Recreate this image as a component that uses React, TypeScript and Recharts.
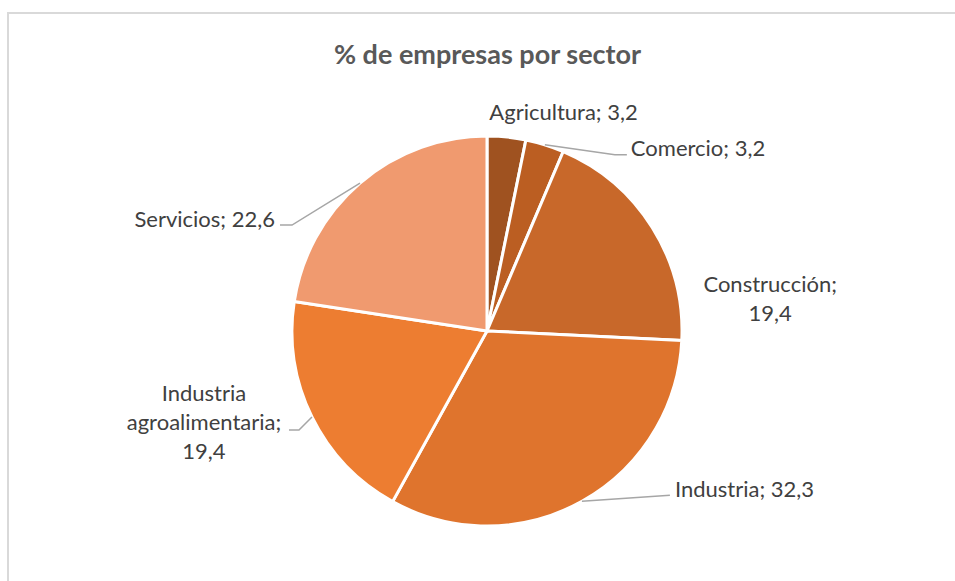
import React from 'react';
import { PieChart, Pie, Cell } from 'recharts';

const categories = ['Agricultura', 'Comercio', 'Construcción', 'Industria', 'Industria agroalimentaria', 'Servicios'];
const values = [3.2, 3.2, 19.4, 32.3, 19.4, 22.6];
const colors = ['#9F5220', '#BB5E22', '#C8682A', '#DF742D', '#ED7D31', '#F09A6F'];
const title = '% de empresas por sector';

const data = categories.map((name, i) => ({ name, value: values[i] }));

// label layout, relative to the slice's mid-point on the rim
const labelLayout: any[] = [
  { dx: 57, dy: -25, anchor: 'middle', wrap: 0, line: null },
  { dx: 86, dy: 3, anchor: 'start', wrap: 0, line: [[70, 10], [82, 10]] },
  { dx: 118, dy: 56, anchor: 'middle', wrap: 1, line: null },
  { dx: 93, dy: -13, anchor: 'start', wrap: 0, line: [[88, -6]] },
  { dx: -108, dy: -24, anchor: 'middle', wrap: 2, line: [[-13, 13], [-23, 13]] },
  { dx: -85, dy: 35, anchor: 'end', wrap: 0, line: [[-68, 42], [-80, 42]] },
];

const fmt = (v: number) => v.toString().replace('.', ',');

const renderLabel = (props: any) => {
  const { cx, cy, midAngle, outerRadius, index, name, value } = props;
  const RAD = Math.PI / 180;
  const ex = cx + outerRadius * Math.cos(-midAngle * RAD);
  const ey = cy + outerRadius * Math.sin(-midAngle * RAD);
  const lay = labelLayout[index];
  let lines: string[];
  if (lay.wrap === 0) lines = [`${name}; ${fmt(value)}`];
  else if (lay.wrap === 1) lines = [`${name};`, fmt(value)];
  else {
    const parts = String(name).split(' ');
    lines = [...parts.slice(0, -1), `${parts[parts.length - 1]};`, fmt(value)];
  }
  let path = '';
  if (lay.line) {
    path = `M${ex},${ey}` + lay.line.map((p: number[]) => ` L${ex + p[0]},${ey + p[1]}`).join('');
  }
  return (
    <g key={`lbl-${index}`}>
      {path && <path d={path} stroke="#A6A6A6" strokeWidth={1.5} fill="none" />}
      {lines.map((t, k) => (
        <text
          key={k}
          x={ex + lay.dx}
          y={ey + lay.dy + k * 29}
          textAnchor={lay.anchor}
          dominantBaseline="central"
          fill="#404040"
          fontSize={22}
          fontFamily="Lato, 'Noto Sans', sans-serif"
        >
          {t}
        </text>
      ))}
    </g>
  );
};

export default function App() {
  return (
    <div style={{ position: 'absolute', left: 0, top: 0, width: 955, height: 581, overflow: 'hidden', background: '#fff' }}>
      <div
        style={{
          position: 'absolute',
          left: 7,
          top: 12,
          width: 1000,
          height: 700,
          border: '2px solid #D9D9D9',
          boxSizing: 'border-box',
        }}
      />
      <div
        style={{
          position: 'absolute',
          left: 0,
          top: 37,
          width: 975,
          textAlign: 'center',
          fontFamily: "Lato, 'Noto Sans', sans-serif",
          fontWeight: 700,
          fontSize: 27,
          lineHeight: '34px',
          color: '#595959',
        }}
      >
        {title}
      </div>
      <div style={{ position: 'absolute', left: 0, top: 0 }}>
        <PieChart width={955} height={581} margin={{ top: 0, right: 0, bottom: 0, left: 0 }}>
          <Pie
            data={data}
            dataKey="value"
            nameKey="name"
            cx={487}
            cy={331}
            outerRadius={195}
            startAngle={90}
            endAngle={-270}
            stroke="#FFFFFF"
            strokeWidth={3}
            label={renderLabel}
            labelLine={false}
            isAnimationActive={false}
          >
            {data.map((d, i) => (
              <Cell key={d.name} fill={colors[i]} />
            ))}
          </Pie>
        </PieChart>
      </div>
    </div>
  );
}
